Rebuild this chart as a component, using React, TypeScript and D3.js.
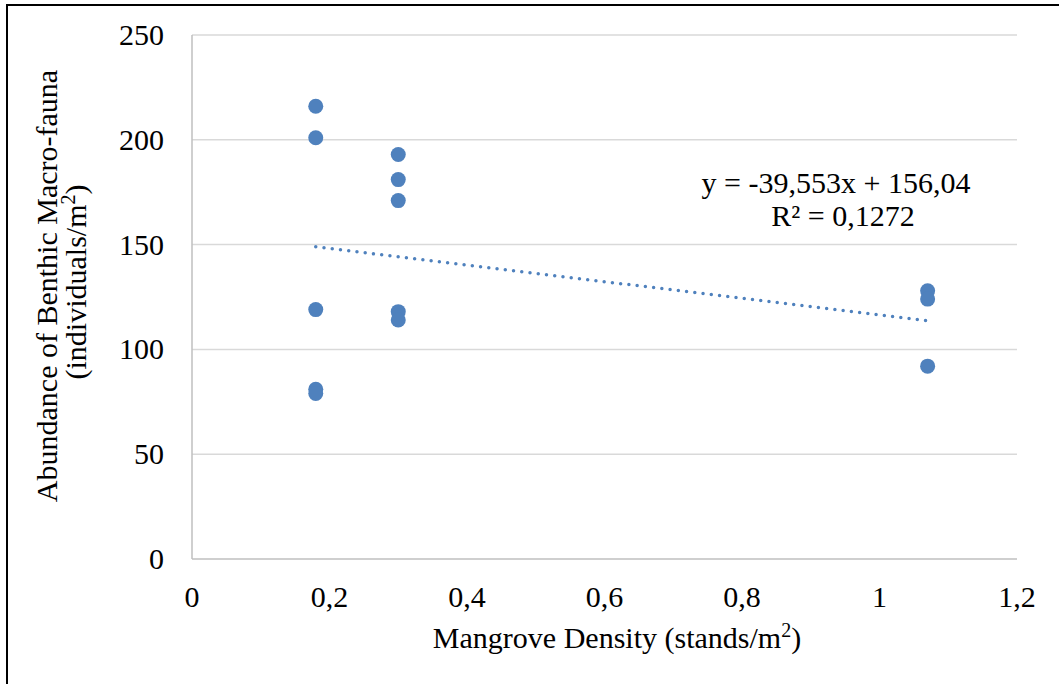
import * as d3 from 'd3'

const densityX = [0.18, 0.18, 0.18, 0.18, 0.18, 0.3, 0.3, 0.3, 0.3, 0.3, 1.07, 1.07, 1.07]
const abundanceY = [216, 201, 119, 81, 79, 193, 181, 171, 118, 114, 128, 124, 92]

const xTicks = [0, 0.2, 0.4, 0.6, 0.8, 1, 1.2]
const xTickLabels = ['0', '0,2', '0,4', '0,6', '0,8', '1', '1,2']
const yTicks = [0, 50, 100, 150, 200, 250]

const trendSlope = -39.553
const trendIntercept = 156.04
const trendRange = [0.18, 1.07]
const equationText = 'y = -39,553x + 156,04'
const rSquaredValue = '0,1272'

const width = 1059
const height = 684
const plot = { left: 192, right: 1017, top: 35, bottom: 559 }
const font = "'Liberation Serif', 'Times New Roman', serif"

const App = () => {
  const xScale = d3.scaleLinear().domain([0, 1.2]).range([plot.left, plot.right])
  const yScale = d3.scaleLinear().domain([0, 250]).range([plot.bottom, plot.top])

  const points = densityX.map((x, i) => ({ x, y: abundanceY[i] }))

  const trendLine = d3
    .line<number>()
    .x((d) => xScale(d))
    .y((d) => yScale(trendSlope * d + trendIntercept))

  return (
    <svg
      width={width}
      height={height}
      style={{ position: 'absolute', left: 0, top: 0, background: 'white', fontFamily: font }}
    >
      <rect x={7} y={5} width={1100} height={720} fill="white" stroke="black" strokeWidth={2} />

      {yTicks.slice(1).map((t) => (
        <line
          key={t}
          x1={plot.left}
          x2={plot.right}
          y1={yScale(t)}
          y2={yScale(t)}
          stroke="#d9d9d9"
          strokeWidth={1.5}
        />
      ))}
      <line x1={plot.left} x2={plot.left} y1={plot.top} y2={plot.bottom} stroke="#bfbfbf" strokeWidth={1.5} />
      <line x1={plot.left} x2={plot.right} y1={plot.bottom} y2={plot.bottom} stroke="#bfbfbf" strokeWidth={1.5} />

      {yTicks.map((t) => (
        <text key={t} x={164} y={yScale(t) + 10} textAnchor="end" fontSize={30} fill="black">
          {t}
        </text>
      ))}
      {xTicks.map((t, i) => (
        <text key={t} x={xScale(t)} y={607} textAnchor="middle" fontSize={30} fill="black">
          {xTickLabels[i]}
        </text>
      ))}

      <path
        d={trendLine(trendRange) ?? ''}
        fill="none"
        stroke="#4f81bd"
        strokeWidth={3.5}
        strokeLinecap="round"
        strokeDasharray="0 8.3"
      />

      {points.map((p, i) => (
        <circle key={i} cx={xScale(p.x)} cy={yScale(p.y)} r={7.5} fill="#4f81bd" />
      ))}

      <text x={836} y={193} textAnchor="middle" fontSize={30} fill="black">
        {equationText}
      </text>
      <text x={843} y={226} textAnchor="middle" fontSize={30} fill="black">
        R² = {rSquaredValue}
      </text>

      <text x={617} y={648} textAnchor="middle" fontSize={30} fill="black">
        Mangrove Density (stands/m
        <tspan fontSize={20} dy={-11}>2</tspan>
        <tspan dy={11}>)</tspan>
      </text>

      <g transform="translate(57, 286) rotate(-90)">
        <text x={0} y={0} textAnchor="middle" fontSize={30} fill="black">
          Abundance of Benthic Macro-fauna
        </text>
      </g>
      <g transform="translate(86, 282) rotate(-90)">
        <text x={0} y={0} textAnchor="middle" fontSize={30} fill="black">
          (individuals/m
          <tspan fontSize={20} dy={-11}>2</tspan>
          <tspan dy={11}>)</tspan>
        </text>
      </g>
    </svg>
  )
}

export default App
